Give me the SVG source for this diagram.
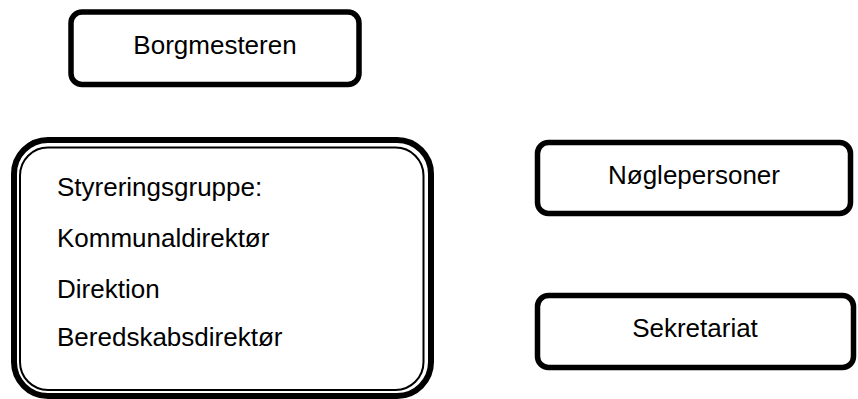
<svg xmlns="http://www.w3.org/2000/svg" width="858" height="399" viewBox="0 0 858 399">
  <style>
    .box { fill: #ffffff; stroke: #000000; stroke-width: 5.5; }
    .outer { fill: #ffffff; stroke: #000000; stroke-width: 6; }
    .inner { fill: none; stroke: #000000; stroke-width: 2; }
    .label { font-family: "Liberation Sans", Arial, sans-serif; font-size: 26px; fill: #000000; }
    .mid { text-anchor: middle; }
  </style>
  <rect width="858" height="399" fill="#ffffff"/>

  <g id="borgmesteren">
    <rect class="box" x="71" y="12" width="288" height="72.5" rx="11"/>
    <text class="label mid" x="215" y="54">Borgmesteren</text>
  </g>

  <g id="styreringsgruppe">
    <rect class="outer" x="14" y="140" width="417" height="256" rx="34"/>
    <rect class="inner" x="20" y="147.5" width="403.5" height="242.5" rx="28"/>
    <text class="label" x="57" y="196">Styreringsgruppe:</text>
    <text class="label" x="57" y="247">Kommunaldirektør</text>
    <text class="label" x="57" y="298">Direktion</text>
    <text class="label" x="57" y="346">Beredskabsdirektør</text>
  </g>

  <g id="noeglepersoner">
    <rect class="box" x="537.5" y="142.5" width="313" height="71" rx="11"/>
    <text class="label mid" x="694" y="184">Nøglepersoner</text>
  </g>

  <g id="sekretariat">
    <rect class="box" x="537.5" y="295.5" width="316" height="72" rx="11"/>
    <text class="label mid" x="695" y="337">Sekretariat</text>
  </g>

  <g id="connectors"></g>
</svg>
